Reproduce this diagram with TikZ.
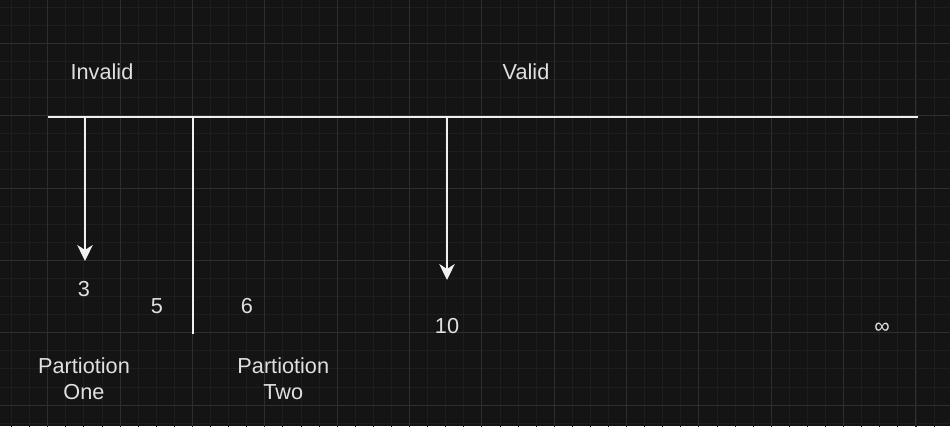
\documentclass[tikz,border=0pt]{standalone}
\usepackage{fontspec}
\setmainfont{Liberation Sans}
\usepackage{tikz}
\usetikzlibrary{arrows.meta,backgrounds}
\definecolor{canvas}{HTML}{141414}
\definecolor{gridminor}{HTML}{1E1E1E}
\definecolor{gridmajor}{HTML}{2E2E2E}
\definecolor{stroke}{HTML}{F0F0F0}
\definecolor{ink}{HTML}{E0E0E0}
\tikzset{
  axisline/.style={draw=stroke, line width=1.8pt},
  pointer/.style={axisline, -{Stealth[length=16pt,width=15.5pt,inset=5pt]}},
  lbl/.style={text=ink, font=\fontsize{21.7}{25.4}\selectfont, inner sep=0pt, anchor=base},
}

\begin{document}
\begin{tikzpicture}[x=1pt,y=-1pt]
\useasboundingbox (0,0) rectangle (950,426);
\fill[canvas] (0,0) rectangle (950,426);
\begin{scope}
\clip (0,0) rectangle (950,426);
\draw[gridminor, line width=0.9pt, shift={(11.52,7.12)}, step=18.09pt] (-20,-20) grid (960,440);
\draw[gridmajor, line width=0.9pt, shift={(47.7,43.3)}, step=72.35pt] (-73,-73) grid (960,440);
\end{scope}

\coordinate (axisL) at (48,117);
\coordinate (axisR) at (918,117);
\coordinate (cut) at (193,117);
\coordinate (cutEnd) at (193,333.5);
\coordinate (arrA) at (85,117);
\coordinate (tipA) at (85,261);
\coordinate (arrB) at (447,117);
\coordinate (tipB) at (447,280);

\draw[axisline] (axisL) -- (axisR);
\draw[axisline] (cut) -- (cutEnd);
\draw[pointer] (arrA) -- (tipA);
\draw[pointer] (arrB) -- (tipB);

\node[lbl] (invalid) at (102,79) {Invalid};
\node[lbl] (valid) at (526,79) {Valid};
\node[lbl] (three) at (84,296.7) {3};
\node[lbl] (five) at (157,313.3) {5};
\node[lbl] (six) at (247,313.3) {6};
\node[lbl] (ten) at (447,333.3) {10};
\node[lbl] (inf) at (882,333.3) {∞};
\node[lbl, align=center] (partOne) at (84,399.3) {Partiotion\\One};
\node[lbl, align=center] (partTwo) at (283.3,399.3) {Partiotion\\Two};
\end{tikzpicture}
\end{document}
